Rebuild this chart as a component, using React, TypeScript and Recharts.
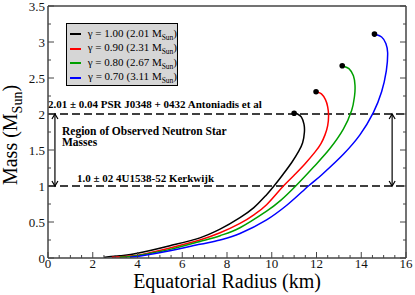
import React from 'react';
import { ComposedChart, Line, XAxis, YAxis, ReferenceLine, Scatter, Legend } from 'recharts';

// ---------- data ----------
const gammaLabels = ['1.00', '0.90', '0.80', '0.70'];
const maxMassLabels = ['2.01', '2.31', '2.67', '3.11'];
const seriesColors = ['#000000', '#ff0000', '#00a000', '#0000ff'];

const radiusG100 = [2.5, 3.2, 4.0, 5.45, 6.79, 7.69, 8.58, 9.2, 9.77, 10.1, 10.5, 10.9, 11.2, 11.38, 11.46, 11.44, 11.32, 11.15, 11.0];
const massG100 = [0.01, 0.03, 0.065, 0.17, 0.28, 0.4, 0.56, 0.7, 0.88, 1.0, 1.16, 1.33, 1.48, 1.6, 1.75, 1.86, 1.96, 2.0, 2.01];

const radiusG090 = [2.85, 3.5, 4.2, 5.45, 6.79, 7.69, 8.58, 9.2, 9.77, 10.52, 11.0, 11.49, 11.93, 12.2, 12.38, 12.5, 12.54, 12.5, 12.4, 12.22, 11.98];
const massG090 = [0.01, 0.025, 0.05, 0.14, 0.25, 0.35, 0.48, 0.6, 0.74, 1.0, 1.15, 1.31, 1.47, 1.59, 1.71, 1.84, 1.98, 2.1, 2.2, 2.28, 2.31];

const radiusG080 = [3.2, 3.8, 4.5, 5.45, 6.79, 7.69, 8.58, 9.77, 10.4, 11.07, 11.86, 12.6, 13.2, 13.57, 13.7, 13.72, 13.65, 13.45, 13.15];
const massG080 = [0.01, 0.025, 0.06, 0.12, 0.23, 0.31, 0.42, 0.65, 0.8, 1.0, 1.26, 1.52, 1.79, 2.05, 2.25, 2.4, 2.53, 2.63, 2.67];

const radiusG070 = [3.66, 4.2, 5.45, 6.79, 7.69, 8.58, 9.77, 10.7, 11.64, 12.25, 13.2, 13.94, 14.54, 14.91, 15.12, 15.18, 15.1, 14.91, 14.59];
const massG070 = [0.01, 0.03, 0.1, 0.19, 0.25, 0.34, 0.53, 0.74, 1.0, 1.16, 1.44, 1.71, 2.02, 2.31, 2.6, 2.85, 2.98, 3.07, 3.11];

const xTicks = [0, 0.5, 1, 1.5, 2, 2.5, 3, 3.5, 4, 4.5, 5, 5.5, 6, 6.5, 7, 7.5, 8, 8.5, 9, 9.5, 10, 10.5, 11, 11.5, 12, 12.5, 13, 13.5, 14, 14.5, 15, 15.5, 16];
const xMajor = [0, 2, 4, 6, 8, 10, 12, 14, 16];
const yTicks = [0, 0.25, 0.5, 0.75, 1, 1.25, 1.5, 1.75, 2, 2.25, 2.5, 2.75, 3, 3.25, 3.5];
const yMajor = [0, 0.5, 1, 1.5, 2, 2.5, 3, 3.5];

const upperMass = 2.0;
const lowerMass = 1.0;
const arrowRadii = [0.31, 15.38];
const upperLabel = '2.01 ± 0.04 PSR J0348 + 0432 Antoniadis et al';
const lowerLabel = '1.0 ± 02 4U1538-52 Kerkwijk';
const regionLines = ['Region of Observed Neutron Star', 'Masses'];

const zip = (rs: number[], ms: number[]) => rs.map((r, i) => ({ r, m: ms[i] }));
const series = [zip(radiusG100, massG100), zip(radiusG090, massG090), zip(radiusG080, massG080), zip(radiusG070, massG070)];
const peaks = series.map((s) => s[s.length - 1]);

// ---------- smooth parametric curve (Catmull-Rom through the points) ----------
const catmullRom = (ctx: any) => {
  let pts: [number, number][] = [];
  return {
    areaStart() {},
    areaEnd() {},
    lineStart() {
      pts = [];
    },
    point(x: number, y: number) {
      pts.push([+x, +y]);
    },
    lineEnd() {
      if (!pts.length) return;
      ctx.moveTo(pts[0][0], pts[0][1]);
      for (let i = 0; i < pts.length - 1; i++) {
        const p0 = pts[i - 1] || pts[i];
        const p1 = pts[i];
        const p2 = pts[i + 1];
        const p3 = pts[i + 2] || p2;
        const c1x = p1[0] + (p2[0] - p0[0]) / 6;
        const c1y = p1[1] + (p2[1] - p0[1]) / 6;
        const c2x = p2[0] - (p3[0] - p1[0]) / 6;
        const c2y = p2[1] - (p3[1] - p1[1]) / 6;
        ctx.bezierCurveTo(c1x, c1y, c2x, c2y, p2[0], p2[1]);
      }
    },
  };
};

// ---------- styling ----------
const FONT = '"Liberation Serif", "Times New Roman", serif';
const AXIS = '#444';

const isIn = (arr: number[], v: number) => arr.some((a) => Math.abs(a - v) < 1e-6);

const BottomTick = (p: any) => {
  const { x, y, payload } = p;
  const major = isIn(xMajor, payload.value);
  return (
    <g>
      <line x1={x} x2={x} y1={y} y2={y - (major ? 6 : 3)} stroke={AXIS} strokeWidth={1} />
      {major && (
        <text x={x} y={y + 10} textAnchor="middle" fontSize={13} fontFamily={FONT} fill="#111">
          {payload.value}
        </text>
      )}
    </g>
  );
};
const TopTick = (p: any) => {
  const { x, y, payload } = p;
  const major = isIn(xMajor, payload.value);
  return <line x1={x} x2={x} y1={y} y2={y + (major ? 6 : 3)} stroke={AXIS} strokeWidth={1} />;
};
const LeftTick = (p: any) => {
  const { x, y, payload } = p;
  const major = isIn(yMajor, payload.value);
  return (
    <g>
      <line x1={x} x2={x + (major ? 6 : 3)} y1={y} y2={y} stroke={AXIS} strokeWidth={1} />
      {major && (
        <text x={x - 3} y={y + 4.5} textAnchor="end" fontSize={13} fontFamily={FONT} fill="#111">
          {payload.value}
        </text>
      )}
    </g>
  );
};
const RightTick = (p: any) => {
  const { x, y, payload } = p;
  const major = isIn(yMajor, payload.value);
  return <line x1={x} x2={x - (major ? 6 : 3)} y1={y} y2={y} stroke={AXIS} strokeWidth={1} />;
};

const ArrowShape = (p: any) => {
  const { x1, y1, x2, y2 } = p;
  const top = Math.min(y1, y2);
  const bot = Math.max(y1, y2);
  const x = x1;
  return (
    <g stroke="#000" strokeWidth={1.2} fill="none">
      <line x1={x} x2={x} y1={top} y2={bot} />
      <polyline points={`${x - 3},${top + 5} ${x},${top} ${x + 3},${top + 5}`} />
      <polyline points={`${x - 3},${bot - 5} ${x},${bot} ${x + 3},${bot - 5}`} />
    </g>
  );
};

const UpperLabel = (p: any) => {
  const vb = p.viewBox || {};
  const x = vb.x;
  const y = vb.y;
  return (
    <g fontFamily={FONT} fontWeight="bold" fill="#000">
      <text x={x} y={y - 6} fontSize={11}>{upperLabel}</text>
      <text x={x + 14} y={y + 21} fontSize={11.5}>{regionLines[0]}</text>
      <text x={x + 14} y={y + 32} fontSize={11.5}>{regionLines[1]}</text>
    </g>
  );
};
const LowerLabel = (p: any) => {
  const vb = p.viewBox || {};
  return (
    <text x={vb.x + 29} y={vb.y - 4} fontSize={11} fontFamily={FONT} fontWeight="bold" fill="#000">
      {lowerLabel}
    </text>
  );
};

const XTitle = (p: any) => {
  const vb = p.viewBox || {};
  return (
    <text x={vb.x + vb.width / 2} y={288} textAnchor="middle" fontSize={20} fontFamily={FONT} fill="#000">
      Equatorial Radius (km)
    </text>
  );
};
const YTitle = (p: any) => {
  const vb = p.viewBox || {};
  const cy = vb.y + vb.height / 2 + 3;
  const tx = 17;
  return (
    <text x={tx} y={cy} transform={`rotate(-90 ${tx} ${cy})`} textAnchor="middle" fontSize={20} fontFamily={FONT} fill="#000">
      Mass (M<tspan fontSize={14} dy={5}>Sun</tspan><tspan dy={-5}>)</tspan>
    </text>
  );
};

const LegendBox = () => (
  <div
    style={{
      background: '#d6d6d6',
      border: '1px solid #000',
      width: 112,
      height: 63,
      boxSizing: 'border-box',
      padding: '3px 0 0 3px',
      fontFamily: FONT,
      fontSize: 11,
      color: '#000',
      textAlign: 'left',
    }}
  >
    {gammaLabels.map((g, i) => (
      <div key={i} style={{ display: 'flex', alignItems: 'center', height: 14.5, whiteSpace: 'nowrap' }}>
        <div style={{ width: 18, height: 0, borderTop: `2px solid ${seriesColors[i]}`, marginRight: 7 }} />
        <span>
          γ = {g} ({maxMassLabels[i]} M<sub style={{ fontSize: 7.5, verticalAlign: -3 }}>Sun</sub>)
        </span>
      </div>
    ))}
  </div>
);

export default function App() {
  return (
    <div style={{ position: 'absolute', left: 0, top: 0, width: 415, height: 295, background: '#fff' }}>
      <ComposedChart width={415} height={295} margin={{ top: 5, right: 8, bottom: 36, left: 47 }}>
        <XAxis
          xAxisId={0}
          dataKey="r"
          type="number"
          domain={[0, 16]}
          ticks={xTicks}
          interval={0}
          allowDataOverflow
          height={1}
          tickSize={0}
          tickMargin={0}
          tickLine={false}
          tick={<BottomTick />}
          axisLine={{ stroke: AXIS, strokeWidth: 1.5 }}
          label={{ content: <XTitle /> }}
        />
        <XAxis
          xAxisId="top"
          orientation="top"
          type="number"
          domain={[0, 16]}
          ticks={xTicks}
          interval={0}
          allowDataOverflow
          height={1}
          tickSize={0}
          tickMargin={0}
          tickLine={false}
          tick={<TopTick />}
          axisLine={{ stroke: AXIS, strokeWidth: 1.5 }}
        />
        <YAxis
          yAxisId={0}
          type="number"
          domain={[0, 3.5]}
          ticks={yTicks}
          interval={0}
          allowDataOverflow
          width={1}
          tickSize={0}
          tickMargin={0}
          tickLine={false}
          tick={<LeftTick />}
          axisLine={{ stroke: AXIS, strokeWidth: 1.5 }}
          label={{ content: <YTitle /> }}
        />
        <YAxis
          yAxisId="right"
          orientation="right"
          type="number"
          domain={[0, 3.5]}
          ticks={yTicks}
          interval={0}
          allowDataOverflow
          width={1}
          tickSize={0}
          tickMargin={0}
          tickLine={false}
          tick={<RightTick />}
          axisLine={{ stroke: AXIS, strokeWidth: 1.5 }}
        />
        <ReferenceLine y={upperMass} stroke="#000" strokeWidth={1.5} strokeDasharray="8 4" label={<UpperLabel />} />
        <ReferenceLine y={lowerMass} stroke="#000" strokeWidth={1.5} strokeDasharray="8 4" label={<LowerLabel />} />
        {arrowRadii.map((r, i) => (
          <ReferenceLine
            key={'a' + i}
            segment={[
              { x: r, y: upperMass },
              { x: r, y: lowerMass },
            ]}
            shape={<ArrowShape />}
          />
        ))}
        {series.map((s, i) => (
          <Line
            key={i}
            data={s}
            dataKey="m"
            name={`γ = ${gammaLabels[i]}`}
            type={catmullRom as any}
            stroke={seriesColors[i]}
            strokeWidth={1.5}
            dot={false}
            activeDot={false}
            isAnimationActive={false}
          />
        ))}
        <Scatter
          data={peaks}
          dataKey="m"
          legendType="none"
          isAnimationActive={false}
          shape={(p: any) => <circle cx={p.cx} cy={p.cy} r={2.8} fill="#000" />}
        />
        <Legend
          layout="horizontal"
          verticalAlign="middle"
          align="center"
          content={<LegendBox />}
          wrapperStyle={{ left: 66, top: 23, width: 112, height: 63 }}
        />
      </ComposedChart>
    </div>
  );
}
